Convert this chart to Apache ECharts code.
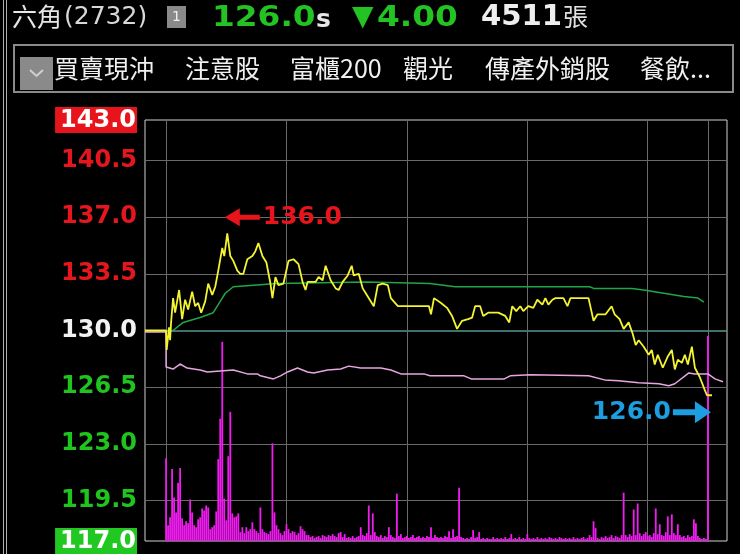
<!DOCTYPE html>
<html>
<head>
<meta charset="utf-8">
<script src="https://cdn.jsdelivr.net/npm/echarts@6/dist/echarts.min.js"></script>
<style>
html, body { margin: 0; padding: 0; background: #000; }
#chart { width: 740px; height: 554px; }
</style>
</head>
<body>
<div id="chart"></div>
<script>
// time = minutes after 09:00 (negative = pre-open)
var priceTimes = [-10.5, 0, 0.3, 1.2, 1.5, 2, 2.5, 3.5, 4.5, 6.5, 8, 9.5, 11, 13, 14.5, 16, 17.5, 19.5, 21, 23, 24.5, 26, 28, 29, 30.5, 32, 33.5, 35.5, 37, 38.5, 40.5, 43, 44.5, 46, 48, 50, 52, 53, 54.5, 56, 58.5, 61, 63.5, 66, 68, 69.5, 70.5, 74.5, 76, 78, 79.5, 82, 84.5, 86, 88, 90.5, 92.5, 93.5, 96, 98, 100.5, 103.5, 105.5, 108, 110.5, 112, 115.5, 131, 132, 133.5, 137, 140, 142.5, 145, 147.5, 150.5, 152.5, 154, 156.5, 158, 160.5, 165.5, 169, 171, 172.5, 174.5, 176.5, 178, 180.5, 183, 185, 187.5, 189, 190.5, 192.5, 194, 198, 200, 201.5, 210.5, 213, 215, 219, 222, 223.5, 226, 228, 230.5, 232.5, 234, 235.5, 238, 240.5, 242, 243.5, 245, 247.5, 250, 252, 253.5, 255, 257, 258.5, 260, 262, 263.5, 266, 268.5, 269.5, 272];
var priceValues = [130.0, 130.0, 128.8, 128.8, 130.2, 129.4, 130.5, 132.0, 131.1, 132.5, 130.7, 131.9, 131.3, 132.4, 131.5, 131.7, 131.1, 131.8, 132.9, 132.2, 132.7, 133.7, 135.1, 134.6, 136.0, 134.6, 134.3, 133.7, 133.5, 133.5, 134.4, 134.6, 134.9, 135.4, 134.6, 134.2, 132.9, 132.0, 133.3, 132.8, 132.9, 134.3, 134.4, 134.1, 133.0, 132.5, 133.0, 133.0, 133.3, 133.1, 134.0, 133.1, 132.6, 132.5, 133.0, 133.4, 134.0, 133.4, 133.5, 132.6, 132.1, 131.5, 132.8, 132.9, 132.8, 132.0, 131.5, 131.5, 131.0, 132.0, 131.7, 131.4, 130.9, 130.1, 130.6, 130.7, 130.8, 131.5, 131.5, 130.9, 131.1, 131.1, 130.9, 130.5, 131.5, 131.2, 131.5, 131.2, 131.5, 131.4, 131.9, 131.6, 132.0, 131.6, 131.9, 132.0, 132.0, 131.5, 132.0, 132.0, 130.6, 131.0, 131.0, 131.5, 131.0, 130.7, 130.1, 130.5, 129.8, 129.1, 129.4, 129.0, 128.5, 128.8, 127.9, 128.5, 127.7, 128.4, 128.8, 127.6, 128.2, 128.0, 128.5, 127.9, 129.0, 127.7, 127.1, 126.3, 126.0, 126.0];

var avgTimes = [0, 3.5, 8.5, 17, 23.5, 27, 29.5, 33.5, 43.5, 55, 100, 131.5, 144, 211, 213, 232, 238, 248, 258, 265, 268];
var avgValues = [130.0, 130.0, 130.5, 130.8, 131.1, 131.8, 132.3, 132.7, 132.8, 132.9, 133.0, 132.9, 132.7, 132.7, 132.6, 132.6, 132.5, 132.3, 132.1, 132.0, 131.75];

var pinkTimes = [-10.5, 0, 0, 3.5, 7, 10.5, 17, 20.5, 27, 33.5, 40.5, 45.5, 47, 53.5, 57, 60.5, 65.5, 70.5, 73.5, 80.5, 87, 91, 97, 107, 112, 117, 128.5, 131.5, 148.5, 152, 168.5, 171.5, 181.5, 210.5, 218.5, 225.5, 235.5, 245.5, 250.5, 253.5, 260.5, 263.5, 270, 273.5, 277.5];
var pinkValues = [129.9, 129.9, 127.74, 127.62, 127.93, 127.68, 127.56, 127.44, 127.5, 127.56, 127.32, 127.32, 127.2, 127.01, 127.2, 127.44, 127.68, 127.44, 127.38, 127.56, 127.62, 127.8, 127.68, 127.68, 127.56, 127.32, 127.32, 127.2, 127.2, 127.01, 127.01, 127.2, 127.26, 127.2, 126.95, 126.89, 126.77, 126.71, 126.59, 126.71, 127.38, 127.32, 127.32, 127.01, 126.83];

// volume per minute (張), minute 0 .. 270
var volumes = [
  84, 16, 24, 73, 44, 29, 59, 74, 23, 16,
  20, 18, 42, 29, 16, 14, 22, 24, 33, 31,
  36, 34, 12, 14, 16, 30, 83, 124, 202, 43,
  21, 86, 131, 28, 24, 25, 28, 9, 14, 8,
  14, 10, 12, 19, 12, 10, 8, 34, 12, 9,
  8, 7, 10, 99, 29, 16, 12, 8, 6, 10,
  17, 12, 8, 10, 9, 6, 8, 15, 12, 10,
  6, 6, 4, 5, 3, 4, 5, 3, 6, 5,
  4, 6, 5, 7, 5, 4, 8, 9, 4, 7,
  3, 4, 3, 5, 3, 4, 5, 14, 6, 5,
  8, 36, 6, 28, 9, 5, 4, 6, 3, 5,
  4, 14, 6, 4, 3, 48, 5, 7, 3, 4,
  5, 3, 4, 6, 3, 4, 5, 3, 4, 3,
  5, 4, 14, 3, 6, 4, 3, 4, 3, 5,
  4, 10, 3, 12, 4, 5, 54, 4, 3, 2,
  3, 2, 4, 11, 3, 4, 9, 2, 3, 2,
  3, 2, 2, 4, 2, 3, 2, 3, 2, 4,
  2, 3, 7, 2, 3, 2, 4, 2, 3, 2,
  7, 3, 2, 3, 2, 4, 2, 3, 2, 3,
  2, 4, 3, 2, 3, 2, 4, 3, 2, 3,
  2, 3, 2, 4, 2, 3, 2, 3, 4, 2,
  3, 6, 4, 20, 13, 3, 2, 4, 3, 5,
  3, 4, 6, 3, 5, 4, 3, 6, 49, 6,
  4, 7, 5, 32, 6, 38, 8, 5, 7, 9,
  5, 6, 4, 8, 33, 7, 17, 6, 5, 9,
  25, 6, 27, 8, 6, 17, 6, 4, 5, 3,
  6, 4, 5, 22, 18, 5, 3, 2, 3, 2,
  208
];

var priceTicks = [143, 140.5, 137, 133.5, 130, 126.5, 123, 119.5, 117];
var refPrice = 130;
var hourLines = [0, 60, 120, 180, 240, 270];

function pairs(xs, ys) {
  return xs.map(function (x, i) { return [x, ys[i]]; });
}

var priceData = pairs(priceTimes, priceValues);
var volData = volumes.map(function (v, i) { return [i, v]; });

var hiIdx = 0;
priceValues.forEach(function (v, i) { if (v > priceValues[hiIdx]) hiIdx = i; });
var lastIdx = priceValues.length - 1;

var gridLines = priceTicks.filter(function (t) { return t !== 143 && t !== 117; }).map(function (t) {
  var item = { yAxis: t };
  if (t === refPrice) item.lineStyle = { color: '#5a9494', width: 1.5, type: 'solid' };
  return item;
}).concat(hourLines.map(function (h) { return { xAxis: h }; }));

var numFont = '"DejaVu Sans"';
var cjkFont = '"Noto Sans CJK TC"';

function lbl(color, bg) {
  var s = { color: color, fontSize: 24, fontWeight: 'bold', fontFamily: numFont };
  if (bg) { s.backgroundColor = bg; s.padding = [2, 1, 0, 5]; }
  return s;
}

// header number text, widened a bit like the terminal font
function num(x, text, color, size, sx) {
  return {
    type: 'text', x: x, y: 18, scaleX: sx,
    style: { text: text, font: 'bold ' + size + 'px ' + numFont, fill: color, verticalAlign: 'middle' }
  };
}

var myChart = echarts.init(document.getElementById('chart'));

myChart.setOption({
  backgroundColor: '#000',
  animation: false,
  grid: { left: 145, right: 13, top: 120, bottom: 7, show: true, borderColor: '#d0d0d0', borderWidth: 1 },
  xAxis: { type: 'value', min: -10.5, max: 279.5, show: false },
  yAxis: [
    {
      type: 'value', min: 117, max: 143, interval: 0.5,
      axisLine: { show: false }, axisTick: { show: false }, splitLine: { show: false },
      axisLabel: {
        margin: 8,
        formatter: function (v) {
          var hit = priceTicks.filter(function (t) { return Math.abs(t - v) < 0.01; });
          if (!hit.length) return '';
          var t = hit[0];
          var k = t === 143 ? 'up' : t === 117 ? 'dn' : t > refPrice ? 'r' : t === refPrice ? 'w' : 'g';
          return '{' + k + '|' + t.toFixed(1) + '}';
        },
        rich: {
          r: lbl('#e5161e'),
          w: lbl('#f2f2f2'),
          g: lbl('#1fc41f'),
          up: lbl('#ffffff', '#e8141c'),
          dn: lbl('#ffffff', '#22c822')
        }
      }
    },
    { type: 'value', min: 0, max: 427, show: false }
  ],
  series: [
    {
      name: 'grid', type: 'line', data: [], z: 1, silent: true,
      markLine: {
        z: 1, silent: true, symbol: 'none', label: { show: false },
        lineStyle: { color: '#6a6a6a', width: 1, type: 'solid' },
        data: gridLines
      }
    },
    {
      name: 'volume', type: 'bar', yAxisIndex: 1, data: volData, z: 2,
      barWidth: 1.8, itemStyle: { color: '#f21cf2' }
    },
    {
      name: 'pink', type: 'line', data: pairs(pinkTimes, pinkValues), z: 3,
      symbol: 'none', lineStyle: { color: '#e6a6e0', width: 1.5 }
    },
    {
      name: 'avg', type: 'line', data: pairs(avgTimes, avgValues), z: 3,
      symbol: 'none', lineStyle: { color: '#21a646', width: 1.5 }
    },
    {
      name: 'price', type: 'line', data: priceData, z: 4,
      symbol: 'none', lineStyle: { color: '#f4f430', width: 1.8 },
      markPoint: {
        silent: true,
        data: [
          {
            coord: priceData[hiIdx],
            symbol: 'path://M0,9 L15,0 L15,6.5 L35,6.5 L35,11.5 L15,11.5 L15,18 Z',
            symbolSize: [35, 18], symbolOffset: [15, -16],
            itemStyle: { color: '#e8141c' },
            label: {
              show: true, position: 'right', distance: 3,
              formatter: priceValues[hiIdx].toFixed(1),
              color: '#e8141c', fontSize: 25, fontWeight: 'bold', fontFamily: numFont
            }
          },
          {
            coord: priceData[lastIdx],
            symbol: 'path://M0,8 L22,8 L22,0 L38,11 L22,22 L22,14 L0,14 Z',
            symbolSize: [38, 22], symbolOffset: [-20, 17],
            itemStyle: { color: '#1c9ee0' },
            label: {
              show: true, position: 'left', distance: 2,
              formatter: priceValues[lastIdx].toFixed(1),
              color: '#1c9ee0', fontSize: 25, fontWeight: 'bold', fontFamily: numFont
            }
          }
        ]
      }
    }
  ],
  graphic: [
    { type: 'rect', shape: { x: 3, y: 0, width: 1, height: 554 }, style: { fill: '#b0b0b0' } },
    { type: 'rect', shape: { x: 6, y: 0, width: 1, height: 554 }, style: { fill: '#b0b0b0' } },
    { type: 'text', x: 12, y: 16, style: { text: '六角', font: '25px ' + cjkFont, fill: '#e6e6e6', verticalAlign: 'middle' } },
    { type: 'text', x: 64, y: 17, style: { text: '(2732)', font: '25px ' + numFont, fill: '#d8d8d8', verticalAlign: 'middle' } },
    { type: 'rect', shape: { x: 167, y: 6, width: 19, height: 22 }, style: { fill: '#8a8a8a' } },
    { type: 'text', x: 176.5, y: 17, style: { text: '1', font: '14px ' + numFont, fill: '#f0f0f0', align: 'center', verticalAlign: 'middle' } },
    num(212, '126.0', '#22c322', 29, 1.13),
    { type: 'text', x: 316, y: 20, style: { text: 's', font: 'bold 25px ' + numFont, fill: '#e6e6e6', verticalAlign: 'middle' } },
    { type: 'text', x: 352, y: 18, style: { text: '▼', font: '28px ' + numFont, fill: '#22c322', verticalAlign: 'middle' } },
    num(377, '4.00', '#22c322', 29, 1.13),
    num(481, '4511', '#eeeeee', 28, 1.04),
    { type: 'text', x: 563, y: 16, style: { text: '張', font: '25px ' + cjkFont, fill: '#e0e0e0', verticalAlign: 'middle' } },
    { type: 'rect', shape: { x: 14, y: 45, width: 719, height: 47 }, style: { fill: 'none', stroke: '#8a8a8a', lineWidth: 2 } },
    { type: 'rect', shape: { x: 20, y: 57, width: 33, height: 33 }, style: { fill: '#8a8a8a' } },
    { type: 'polyline', shape: { points: [[30, 70], [36.5, 76], [43, 70]] }, style: { stroke: '#d0d0d0', lineWidth: 2, fill: 'none' } },
    { type: 'text', x: 54, y: 68, style: { text: '買賣現沖', font: '25px ' + cjkFont, fill: '#f0f0f0', verticalAlign: 'middle' } },
    { type: 'text', x: 185, y: 68, style: { text: '注意股', font: '25px ' + cjkFont, fill: '#f0f0f0', verticalAlign: 'middle' } },
    { type: 'text', x: 290, y: 68, style: { text: '富櫃200', font: '25px ' + cjkFont, fill: '#f0f0f0', verticalAlign: 'middle' } },
    { type: 'text', x: 403, y: 68, style: { text: '觀光', font: '25px ' + cjkFont, fill: '#f0f0f0', verticalAlign: 'middle' } },
    { type: 'text', x: 485, y: 68, style: { text: '傳產外銷股', font: '25px ' + cjkFont, fill: '#f0f0f0', verticalAlign: 'middle' } },
    { type: 'text', x: 640, y: 68, style: { text: '餐飲...', font: '25px ' + cjkFont, fill: '#f0f0f0', verticalAlign: 'middle' } }
  ]
});

window.addEventListener('resize', function () {
  myChart.resize();
});
</script>
</body>
</html>
